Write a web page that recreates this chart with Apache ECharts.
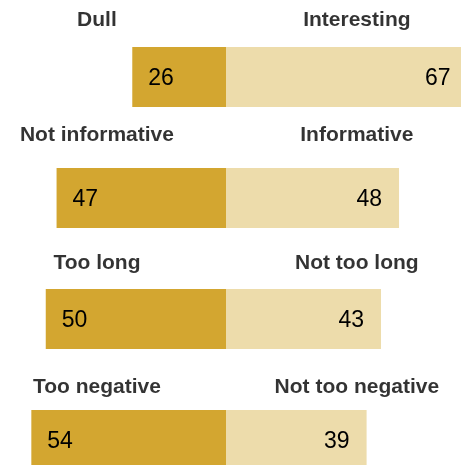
<!DOCTYPE html>
<html><head><meta charset="utf-8">
<script src="https://cdn.jsdelivr.net/npm/echarts@6/dist/echarts.min.js"></script>
<style>html,body{margin:0;padding:0;background:#fff}#c{width:461px;height:465px}</style>
</head><body><div id="c"></div>
<script>
const leftLabels = ['Dull', 'Not informative', 'Too long', 'Too negative'];
const rightLabels = ['Interesting', 'Informative', 'Not too long', 'Not too negative'];
const leftValues = [26, 47, 50, 54];
const rightValues = [67, 48, 43, 39];

const rows = leftLabels.map((_, i) => 'r' + i);
const labelDy = [-57, -63, -56, -53];
const ppu = 3.605, cx = 226;
const chart = echarts.init(document.getElementById('c'), null, {renderer: 'canvas'});
const font = 'Liberation Sans, Arial, sans-serif';
function catSeries(labels, xval) {
  return {
    type: 'scatter', symbolSize: 0, silent: true,
    data: labels.map((t, i) => ({value: [xval, rows[i]], name: t,
      label: {offset: [0, labelDy[i]]}})),
    label: {show: true, position: 'inside', formatter: p => p.name,
      fontFamily: font, fontWeight: 'bold', fontSize: 21, color: '#000'}
  };
}
chart.setOption({
  animation: false,
  grid: {left: cx - 70 * ppu, width: 140 * ppu, top: 16.5, height: 484,
    outerBoundsMode: 'none', containLabel: false},
  xAxis: {type: 'value', min: -70, max: 70, show: false},
  yAxis: {type: 'category', data: rows, inverse: true, show: false},
  series: [
    {type: 'bar', stack: 's', barWidth: 60, data: leftValues.map(v => -v),
      itemStyle: {color: '#D3A630'},
      label: {show: true, position: 'insideLeft', distance: 16, offset: [0, 2],
        formatter: p => Math.abs(p.value),
        fontFamily: font, fontSize: 23, color: '#000'}},
    {type: 'bar', stack: 's', barWidth: 60, data: rightValues,
      itemStyle: {color: '#EDDCAB'},
      label: {show: true, position: 'insideRight', distance: 17, offset: [0, 2],
        fontFamily: font, fontSize: 23, color: '#000'}},
    catSeries(leftLabels, -35.8),
    catSeries(rightLabels, 36.3)
  ]
});
</script></body></html>
